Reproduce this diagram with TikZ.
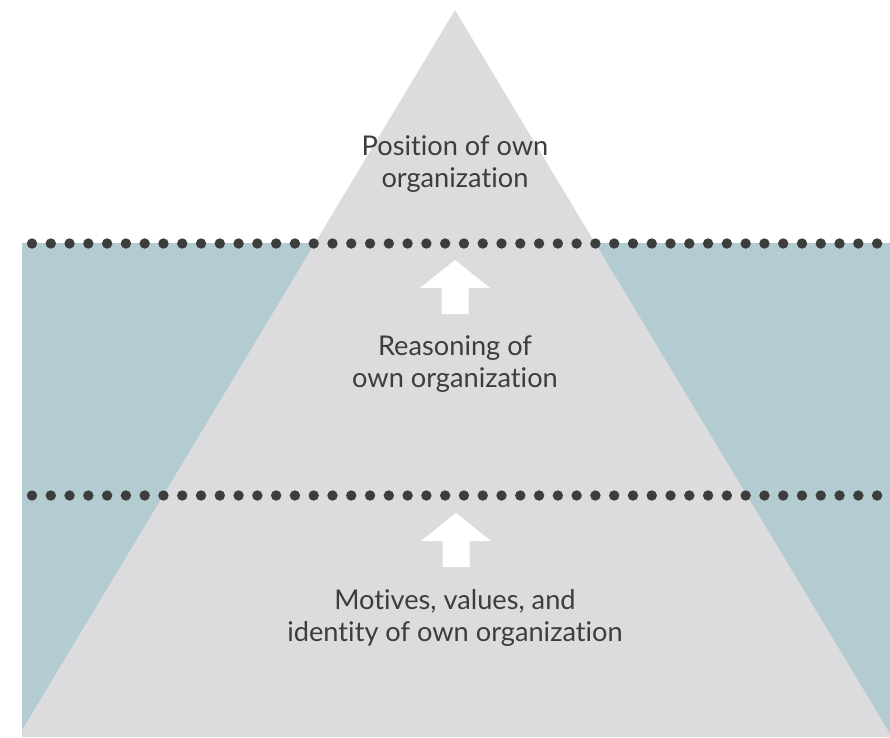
\documentclass[tikz,border=0pt]{standalone}
\usepackage{fontspec}
\setmainfont[Ligatures=NoCommon]{Lato}
\usepackage{xcolor}
\usepackage{tikz}
\usetikzlibrary{calc}
\definecolor{pyrgrey}{HTML}{DCDCDE}
\definecolor{pyrwater}{HTML}{B3CCD1}
\definecolor{pyrink}{HTML}{3D3D3D}
\tikzset{
  layertext/.style={align=center,text=pyrink,inner sep=0pt,
                    font=\fontsize{27.2}{31.5}\selectfont},
  liftarrow/.style={fill=white,draw=none},
  dotmark/.style={fill=pyrink,draw=none},
}

\begin{document}
\begin{tikzpicture}[x=1pt,y=-1pt]
  \useasboundingbox (0,0) rectangle (890,737);
  % water below the surface line
  \fill[pyrwater] (22,243) rectangle (890,737);
  \begin{scope}
    \clip (22,0) rectangle (890,737);
    \coordinate (apex) at (455,10);
    \fill[pyrgrey] (apex) -- (892,737) -- (18,737) -- cycle;
  \end{scope}
  % dotted separators
  \foreach \yy in {243.5,495.5}{
    \foreach \i in {0,...,45}{
      \fill[dotmark] ({32+\i*18.78},\yy) circle (5.2);
    }
  }
  % labels
  \node[layertext] (posText) at (455,164) {Position of own\\organization};
  \node[layertext] (reasonText) at (455,364) {Reasoning of\\own organization};
  \node[layertext] (motiveText) at (455,618) {Motives, values, and\\identity of own organization};
  % arrows pointing up
  \coordinate (arrowA) at (455,260);
  \coordinate (arrowB) at (456,513);
  \foreach \tip in {arrowA,arrowB}{
    \fill[liftarrow] (\tip) -- ++(35,28) -- ++(-21.5,0) -- ++(0,26) -- ++(-27,0)
      -- ++(0,-26) -- ++(-21.5,0) -- cycle;
  }
\end{tikzpicture}
\end{document}
